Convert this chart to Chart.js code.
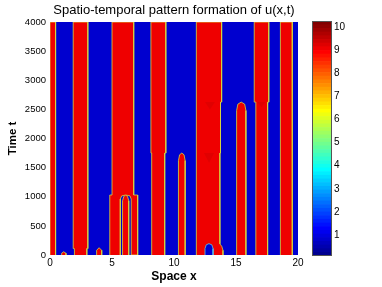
<!DOCTYPE html>
<html>
<head>
<meta charset="utf-8">
<script src="https://cdn.jsdelivr.net/npm/chart.js@4.4.1/dist/chart.umd.min.js"></script>
<style>
  body { margin: 0; background: #fff; }
  #wrap { position: relative; width: 382px; height: 287px; }
  #main { position: absolute; left: 0; top: 0; }
  #cbar { position: absolute; left: 300px; top: 0; }
</style>
</head>
<body>
<div id="wrap">
  <canvas id="main" width="382" height="287"></canvas>
  <canvas id="cbar" width="82" height="287"></canvas>
</div>
<script>
// domain
const xLimits = [0, 20];
const tLimits = [0, 4000];
const xTicks = [0, 5, 10, 15, 20];
const tTicks = [0, 500, 1000, 1500, 2000, 2500, 3000, 3500, 4000];

// colour scale of u
const uMin = 0.09;
const uMax = 10.27;
const uTicks = [1, 2, 3, 4, 5, 6, 7, 8, 9, 10];
const uLow = 0.8;   // value inside the blue regions
const uHigh = 9.0;  // value inside the red regions

// high-u regions, outlines as (x, t) pairs
const regionA = [[0, 0], [0, 4000], [0.45, 4000], [0.45, 0]];
const regionB = [[1.97, 0], [1.97, 110], [1.87, 110], [1.87, 4000], [3.05, 4000], [3.05, 110], [2.97, 110], [2.97, 0]];
const regionC = [[4.82, 0], [4.82, 1030], [5.0, 1030], [5.0, 4000], [6.75, 4000], [6.75, 1030], [7.07, 1030], [7.07, 0],
                 [6.55, 0], [6.55, 960], [6.45, 1015], [6.1, 1030], [5.78, 1015], [5.67, 960], [5.67, 0]];
const bumpC = [[5.85, 0], [5.85, 930], [5.95, 1005], [6.1, 1030], [6.25, 1005], [6.35, 930], [6.35, 0]];
const regionD = [[8.2, 0], [8.2, 1750], [8.14, 1750], [8.14, 4000], [9.34, 4000], [9.34, 1750], [9.25, 1750], [9.25, 0]];
const bumpE = [[10.36, 0], [10.36, 1620], [10.45, 1720], [10.63, 1750], [10.81, 1720], [10.9, 1620], [10.9, 0]];
const regionF = [[11.85, 0], [11.85, 1750], [11.8, 1750], [11.8, 2625], [11.78, 2625], [11.78, 4000], [13.84, 4000],
                 [13.84, 2625], [13.75, 2625], [13.75, 1750], [13.7, 1750], [13.7, 190], [13.85, 150], [13.95, 80], [13.95, 0]];
const holeF = [[12.5, 0], [12.5, 110], [12.6, 175], [12.82, 195], [13.05, 175], [13.15, 110], [13.15, 0]];
const bumpG = [[15.05, 0], [15.05, 2480], [15.15, 2590], [15.42, 2625], [15.7, 2590], [15.8, 2480], [15.8, 0]];
const regionH = [[16.6, 0], [16.6, 2625], [16.47, 2625], [16.47, 4000], [17.64, 4000], [17.64, 2625], [17.55, 2625], [17.55, 0]];
const regionI = [[18.58, 0], [18.58, 4000], [19.54, 4000], [19.54, 0]];
const smallBump1 = [[0.94, 0], [0.94, 30], [1.1, 55], [1.29, 30], [1.29, 0]];
const smallBump2 = [[3.76, 0], [3.76, 80], [3.96, 125], [4.17, 80], [4.17, 0]];

// darker wedges under the merges
const wedge1 = [[12.5, 2625], [12.9, 2500], [13.3, 2625]];
const wedge2 = [[12.42, 1750], [12.83, 1580], [13.23, 1750]];
const wedge3 = [[16.7, 2625], [17.05, 2540], [17.4, 2625]];

const highRegions = [regionA, regionB, regionC, bumpC, regionD, bumpE, regionF, bumpG, regionH, regionI, smallBump1, smallBump2];
const lowHoles = [holeF];
const peakWedges = [wedge1, wedge2, wedge3];

// MATLAB style jet, 64 levels
const nLevels = 64;
function jet(i) {
  const f = (i + 1) / nLevels;
  const c = v => Math.round(255 * Math.max(0, Math.min(1, v)));
  const r = c(Math.min(4 * f - 1.5, -4 * f + 4.5));
  const g = c(Math.min(4 * f - 0.5, -4 * f + 3.5));
  const b = c(Math.min(4 * f + 0.5, -4 * f + 2.5));
  return `rgb(${r},${g},${b})`;
}
function colorOf(u) {
  let i = Math.floor((u - uMin) / (uMax - uMin) * nLevels);
  return jet(Math.max(0, Math.min(nLevels - 1, i)));
}

const font = "'Liberation Sans', Arial, sans-serif";
const toPts = arr => arr.map(([x, t]) => ({ x: x, y: t }));

const datasets = [];
lowHoles.forEach(r => datasets.push({
  data: toPts(r), showLine: true, fill: 'shape', order: 0,
  backgroundColor: colorOf(uLow), borderColor: 'rgb(90,200,235)', borderWidth: 0.8, pointRadius: 0
}));
peakWedges.forEach(r => datasets.push({
  data: toPts(r), showLine: true, fill: 'shape', order: 1,
  backgroundColor: 'rgb(225,0,0)', borderWidth: 0, pointRadius: 0
}));
highRegions.forEach(r => datasets.push({
  data: toPts(r), showLine: true, fill: 'shape', order: 2,
  backgroundColor: colorOf(uHigh), borderColor: 'rgb(215,215,60)', borderWidth: 0.8, pointRadius: 0
}));

const background = {
  id: 'background',
  beforeDatasetsDraw(chart) {
    const { ctx, chartArea: a } = chart;
    ctx.save();
    ctx.fillStyle = colorOf(uLow);
    ctx.fillRect(a.left, a.top, a.right - a.left, a.bottom - a.top);
    ctx.restore();
  }
};

new Chart(document.getElementById('main'), {
  type: 'scatter',
  data: { datasets: datasets },
  plugins: [background],
  options: {
    responsive: false,
    animation: false,
    layout: { padding: { left: 0, right: 84, top: 0, bottom: 0 } },
    plugins: {
      legend: { display: false },
      tooltip: { enabled: false },
      title: {
        display: true, fullSize: false,
        text: 'Spatio-temporal pattern formation of u(x,t)',
        color: '#000', font: { family: font, size: 13, weight: 'normal' },
        padding: { top: 3, bottom: 3.4 }
      }
    },
    scales: {
      x: {
        type: 'linear', min: xLimits[0], max: xLimits[1],
        afterBuildTicks: s => { s.ticks = xTicks.map(v => ({ value: v })); },
        afterFit: s => { s.height = 32; },
        grid: { display: false, drawTicks: false },
        border: { display: false },
        ticks: { color: '#000', padding: 2, font: { family: font, size: 10 }, callback: v => String(v) },
        title: { display: true, text: 'Space x', color: '#000', padding: { top: 3, bottom: 3 },
                 font: { family: font, size: 12, weight: 'bold' } }
      },
      y: {
        type: 'linear', min: tLimits[0], max: tLimits[1],
        afterBuildTicks: s => { s.ticks = tTicks.map(v => ({ value: v })); },
        afterFit: s => { s.width = 50; },
        grid: { display: false, drawTicks: false },
        border: { display: false },
        ticks: { color: '#000', padding: 4, font: { family: font, size: 9.5 }, callback: v => String(v) },
        title: { display: true, text: 'Time t', color: '#000', padding: { top: 6, bottom: 6 },
                 font: { family: font, size: 11.5, weight: 'bold' } }
      }
    }
  }
});

// colour bar
const levelStep = (uMax - uMin) / nLevels;
const barSets = [];
for (let i = 0; i < nLevels; i++) {
  barSets.push({
    data: [[uMin + i * levelStep, uMin + (i + 1) * levelStep]],
    backgroundColor: jet(i), borderWidth: 0,
    grouped: false, barPercentage: 1, categoryPercentage: 1
  });
}

const frame = {
  id: 'frame',
  afterDatasetsDraw(chart) {
    const { ctx, chartArea: a } = chart;
    ctx.save();
    ctx.strokeStyle = '#555';
    ctx.lineWidth = 1;
    ctx.strokeRect(a.left + 0.5, a.top + 0.5, a.right - a.left - 1, a.bottom - a.top - 1);
    ctx.restore();
  }
};

new Chart(document.getElementById('cbar'), {
  type: 'bar',
  data: { labels: [''], datasets: barSets },
  plugins: [frame],
  options: {
    responsive: false,
    animation: false,
    layout: { padding: { left: 12, right: 0, top: 21, bottom: 31 } },
    plugins: { legend: { display: false }, tooltip: { enabled: false } },
    scales: {
      x: { display: false },
      y: {
        position: 'right', min: uMin, max: uMax,
        afterBuildTicks: s => { s.ticks = uTicks.map(v => ({ value: v })); },
        afterFit: s => { s.width = 50; },
        grid: { display: false, drawTicks: false },
        border: { display: false },
        ticks: { color: '#000', padding: 2, font: { family: font, size: 10 } }
      }
    }
  }
});
</script>
</body>
</html>
